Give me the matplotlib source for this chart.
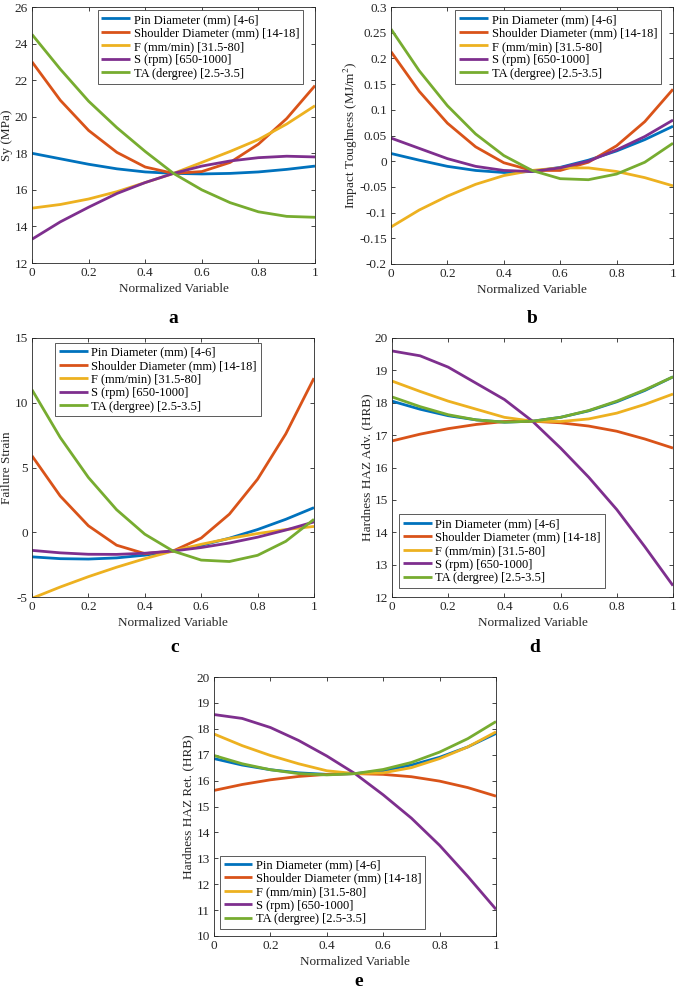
import numpy as np
import matplotlib
matplotlib.use("Agg")
import matplotlib.pyplot as plt

plt.rcParams['font.family'] = ['Liberation Serif', 'DejaVu Serif']
plt.rcParams['mathtext.fontset'] = 'stix'
plt.rcParams['axes.unicode_minus'] = False

# --- data (x = 0, 0.1, ..., 1) ---
x = [0, 0.1, 0.2, 0.3, 0.4, 0.5, 0.6, 0.7, 0.8, 0.9, 1.0]
labels = ['Pin Diameter (mm) [4-6]', 'Shoulder Diameter (mm) [14-18]',
          'F (mm/min) [31.5-80]', 'S (rpm) [650-1000]', 'TA (dergree) [2.5-3.5]']
colors = ['#0072BD', '#D95319', '#EDB120', '#7E2F8E', '#77AC30']

# a: Sy (MPa)
sy_pin = [18.0, 17.7, 17.4, 17.15, 16.98, 16.9, 16.87, 16.9, 16.98, 17.12, 17.3]
sy_shoulder = [23.0, 20.9, 19.25, 18.05, 17.25, 16.9, 17.0, 17.5, 18.5, 19.9, 21.7]
sy_f = [15.0, 15.2, 15.5, 15.9, 16.4, 16.9, 17.5, 18.1, 18.75, 19.6, 20.6]
sy_s = [13.3, 14.25, 15.05, 15.8, 16.4, 16.9, 17.3, 17.58, 17.76, 17.84, 17.8]
sy_ta = [24.5, 22.6, 20.85, 19.4, 18.1, 16.9, 16.0, 15.3, 14.8, 14.55, 14.5]

# b: impact toughness
it_pin = [0.015, 0.002, -0.01, -0.018, -0.022, -0.02, -0.012, 0.002, 0.02, 0.042, 0.068]
it_shoulder = [0.213, 0.136, 0.074, 0.028, -0.003, -0.018, -0.018, -0.002, 0.03, 0.077, 0.14]
it_f = [-0.128, -0.095, -0.068, -0.045, -0.028, -0.018, -0.013, -0.013, -0.02, -0.032, -0.048]
it_s = [0.045, 0.025, 0.005, -0.01, -0.018, -0.02, -0.013, 0.0, 0.022, 0.048, 0.08]
it_ta = [0.257, 0.176, 0.108, 0.053, 0.011, -0.018, -0.034, -0.036, -0.025, -0.002, 0.035]

# c: failure strain
fs_pin = [-1.9, -2.04, -2.07, -1.98, -1.77, -1.45, -1.01, -0.46, 0.21, 1.0, 1.9]
fs_shoulder = [5.9, 2.8, 0.5, -1.0, -1.65, -1.45, -0.45, 1.4, 4.1, 7.6, 11.9]
fs_f = [-5.1, -4.23, -3.43, -2.7, -2.04, -1.45, -0.93, -0.48, -0.1, 0.21, 0.45]
fs_s = [-1.4, -1.59, -1.7, -1.71, -1.62, -1.45, -1.18, -0.83, -0.38, 0.17, 0.8]
fs_ta = [11.0, 7.32, 4.23, 1.74, -0.15, -1.45, -2.15, -2.26, -1.78, -0.7, 1.0]

# d: hardness HAZ adv.
ha_pin = [18.05, 17.8, 17.6, 17.47, 17.4, 17.43, 17.55, 17.75, 18.03, 18.38, 18.8]
ha_shoulder = [16.82, 17.03, 17.2, 17.33, 17.42, 17.43, 17.38, 17.28, 17.12, 16.88, 16.6]
ha_f = [18.67, 18.35, 18.05, 17.8, 17.55, 17.43, 17.42, 17.5, 17.68, 17.95, 18.27]
ha_s = [19.6, 19.45, 19.1, 18.6, 18.1, 17.43, 16.6, 15.7, 14.7, 13.55, 12.35]
ha_ta = [18.18, 17.88, 17.63, 17.47, 17.4, 17.43, 17.55, 17.76, 18.05, 18.4, 18.8]

# e: hardness HAZ ret.
hr_pin = [16.85, 16.6, 16.42, 16.3, 16.24, 16.27, 16.38, 16.6, 16.9, 17.3, 17.82]
hr_shoulder = [15.62, 15.85, 16.03, 16.16, 16.24, 16.27, 16.24, 16.15, 15.98, 15.73, 15.4]
hr_f = [17.8, 17.35, 16.97, 16.65, 16.38, 16.27, 16.3, 16.5, 16.85, 17.3, 17.88]
hr_s = [18.55, 18.4, 18.05, 17.55, 16.95, 16.27, 15.45, 14.55, 13.5, 12.3, 11.03]
hr_ta = [16.97, 16.65, 16.42, 16.27, 16.22, 16.27, 16.43, 16.7, 17.1, 17.62, 18.28]

W, H = 676, 991
fig = plt.figure(figsize=(W / 100, H / 100), dpi=100)


def px_axes(left, right, top, bottom):
    return fig.add_axes([left / W, 1 - bottom / H, (right - left) / W, (bottom - top) / H])


def panel(box, series, ylim, yticks, ytl, ylabel, ylab_x, leg_loc, leg_anchor,
          letter, letter_xy):
    ax = px_axes(*box)
    for ys, c, lab in zip(series, colors, labels):
        ax.plot(x, ys, color=c, lw=2, label=lab, solid_capstyle='butt')
    ax.set_xlim(0, 1)
    ax.set_ylim(*ylim)
    ax.set_xticks([0, 0.2, 0.4, 0.6, 0.8, 1])
    ax.set_xticklabels(['0', '0.2', '0.4', '0.6', '0.8', '1'])
    ax.set_yticks(yticks)
    ax.set_yticklabels(ytl)
    ax.tick_params(direction='in', top=True, right=True, labelsize=9.5,
                   length=3, width=0.6, colors='#262626', pad=3)
    for s in ax.spines.values():
        s.set_color('#262626')
        s.set_linewidth(0.6)
    ax.set_xlabel('Normalized Variable', fontsize=9.5, color='#262626', labelpad=3)
    ax.set_ylabel(ylabel, fontsize=9.5, color='#262626', va='center')
    ax.yaxis.set_label_coords((ylab_x - box[0]) / (box[1] - box[0]), 0.5)
    leg = ax.legend(loc=leg_loc, bbox_to_anchor=leg_anchor, borderaxespad=0,
                    fontsize=9, handlelength=2.3, handletextpad=0.3,
                    labelspacing=0.12, borderpad=0.3, fancybox=False,
                    edgecolor='#404040', framealpha=1)
    leg.get_frame().set_linewidth(0.6)
    fig.text(letter_xy[0] / W, 1 - letter_xy[1] / H, letter, fontsize=14,
             fontweight='bold', ha='center', va='center')
    return ax


panel((32, 315, 7, 263), [sy_pin, sy_shoulder, sy_f, sy_s, sy_ta], (12, 26),
      list(range(12, 27, 2)), [str(v) for v in range(12, 27, 2)], 'Sy (MPa)', 7,
      'upper right', (0.958, 0.988), 'a', (173, 318))

b_ticks = [-0.2, -0.15, -0.1, -0.05, 0, 0.05, 0.1, 0.15, 0.2, 0.25, 0.3]
b_tl = ['-0.2', '-0.15', '-0.1', '-0.05', '0', '0.05', '0.1', '0.15', '0.2', '0.25', '0.3']
panel((391, 673, 7, 264), [it_pin, it_shoulder, it_f, it_s, it_ta], (-0.2, 0.3),
      b_ticks, b_tl, 'Impact Toughness (MJ/m$^2$)', 351,
      'upper right', (0.957, 0.988), 'b', (532, 318))

panel((32, 314, 338, 597), [fs_pin, fs_shoulder, fs_f, fs_s, fs_ta], (-5, 15),
      [-5, 0, 5, 10, 15], ['-5', '0', '5', '10', '15'], 'Failure Strain', 7,
      'upper left', (0.082, 0.981), 'c', (175, 648))

panel((392, 673, 338, 597), [ha_pin, ha_shoulder, ha_f, ha_s, ha_ta], (12, 20),
      list(range(12, 21)), [str(v) for v in range(12, 21)], 'Hardness HAZ Adv. (HRB)', 367,
      'lower left', (0.025, 0.035), 'd', (535, 648))

panel((214, 496, 677, 936), [hr_pin, hr_shoulder, hr_f, hr_s, hr_ta], (10, 20),
      list(range(10, 21)), [str(v) for v in range(10, 21)], 'Hardness HAZ Ret. (HRB)', 188,
      'lower left', (0.021, 0.027), 'e', (359, 982))

fig.savefig('out.png', dpi=100)
